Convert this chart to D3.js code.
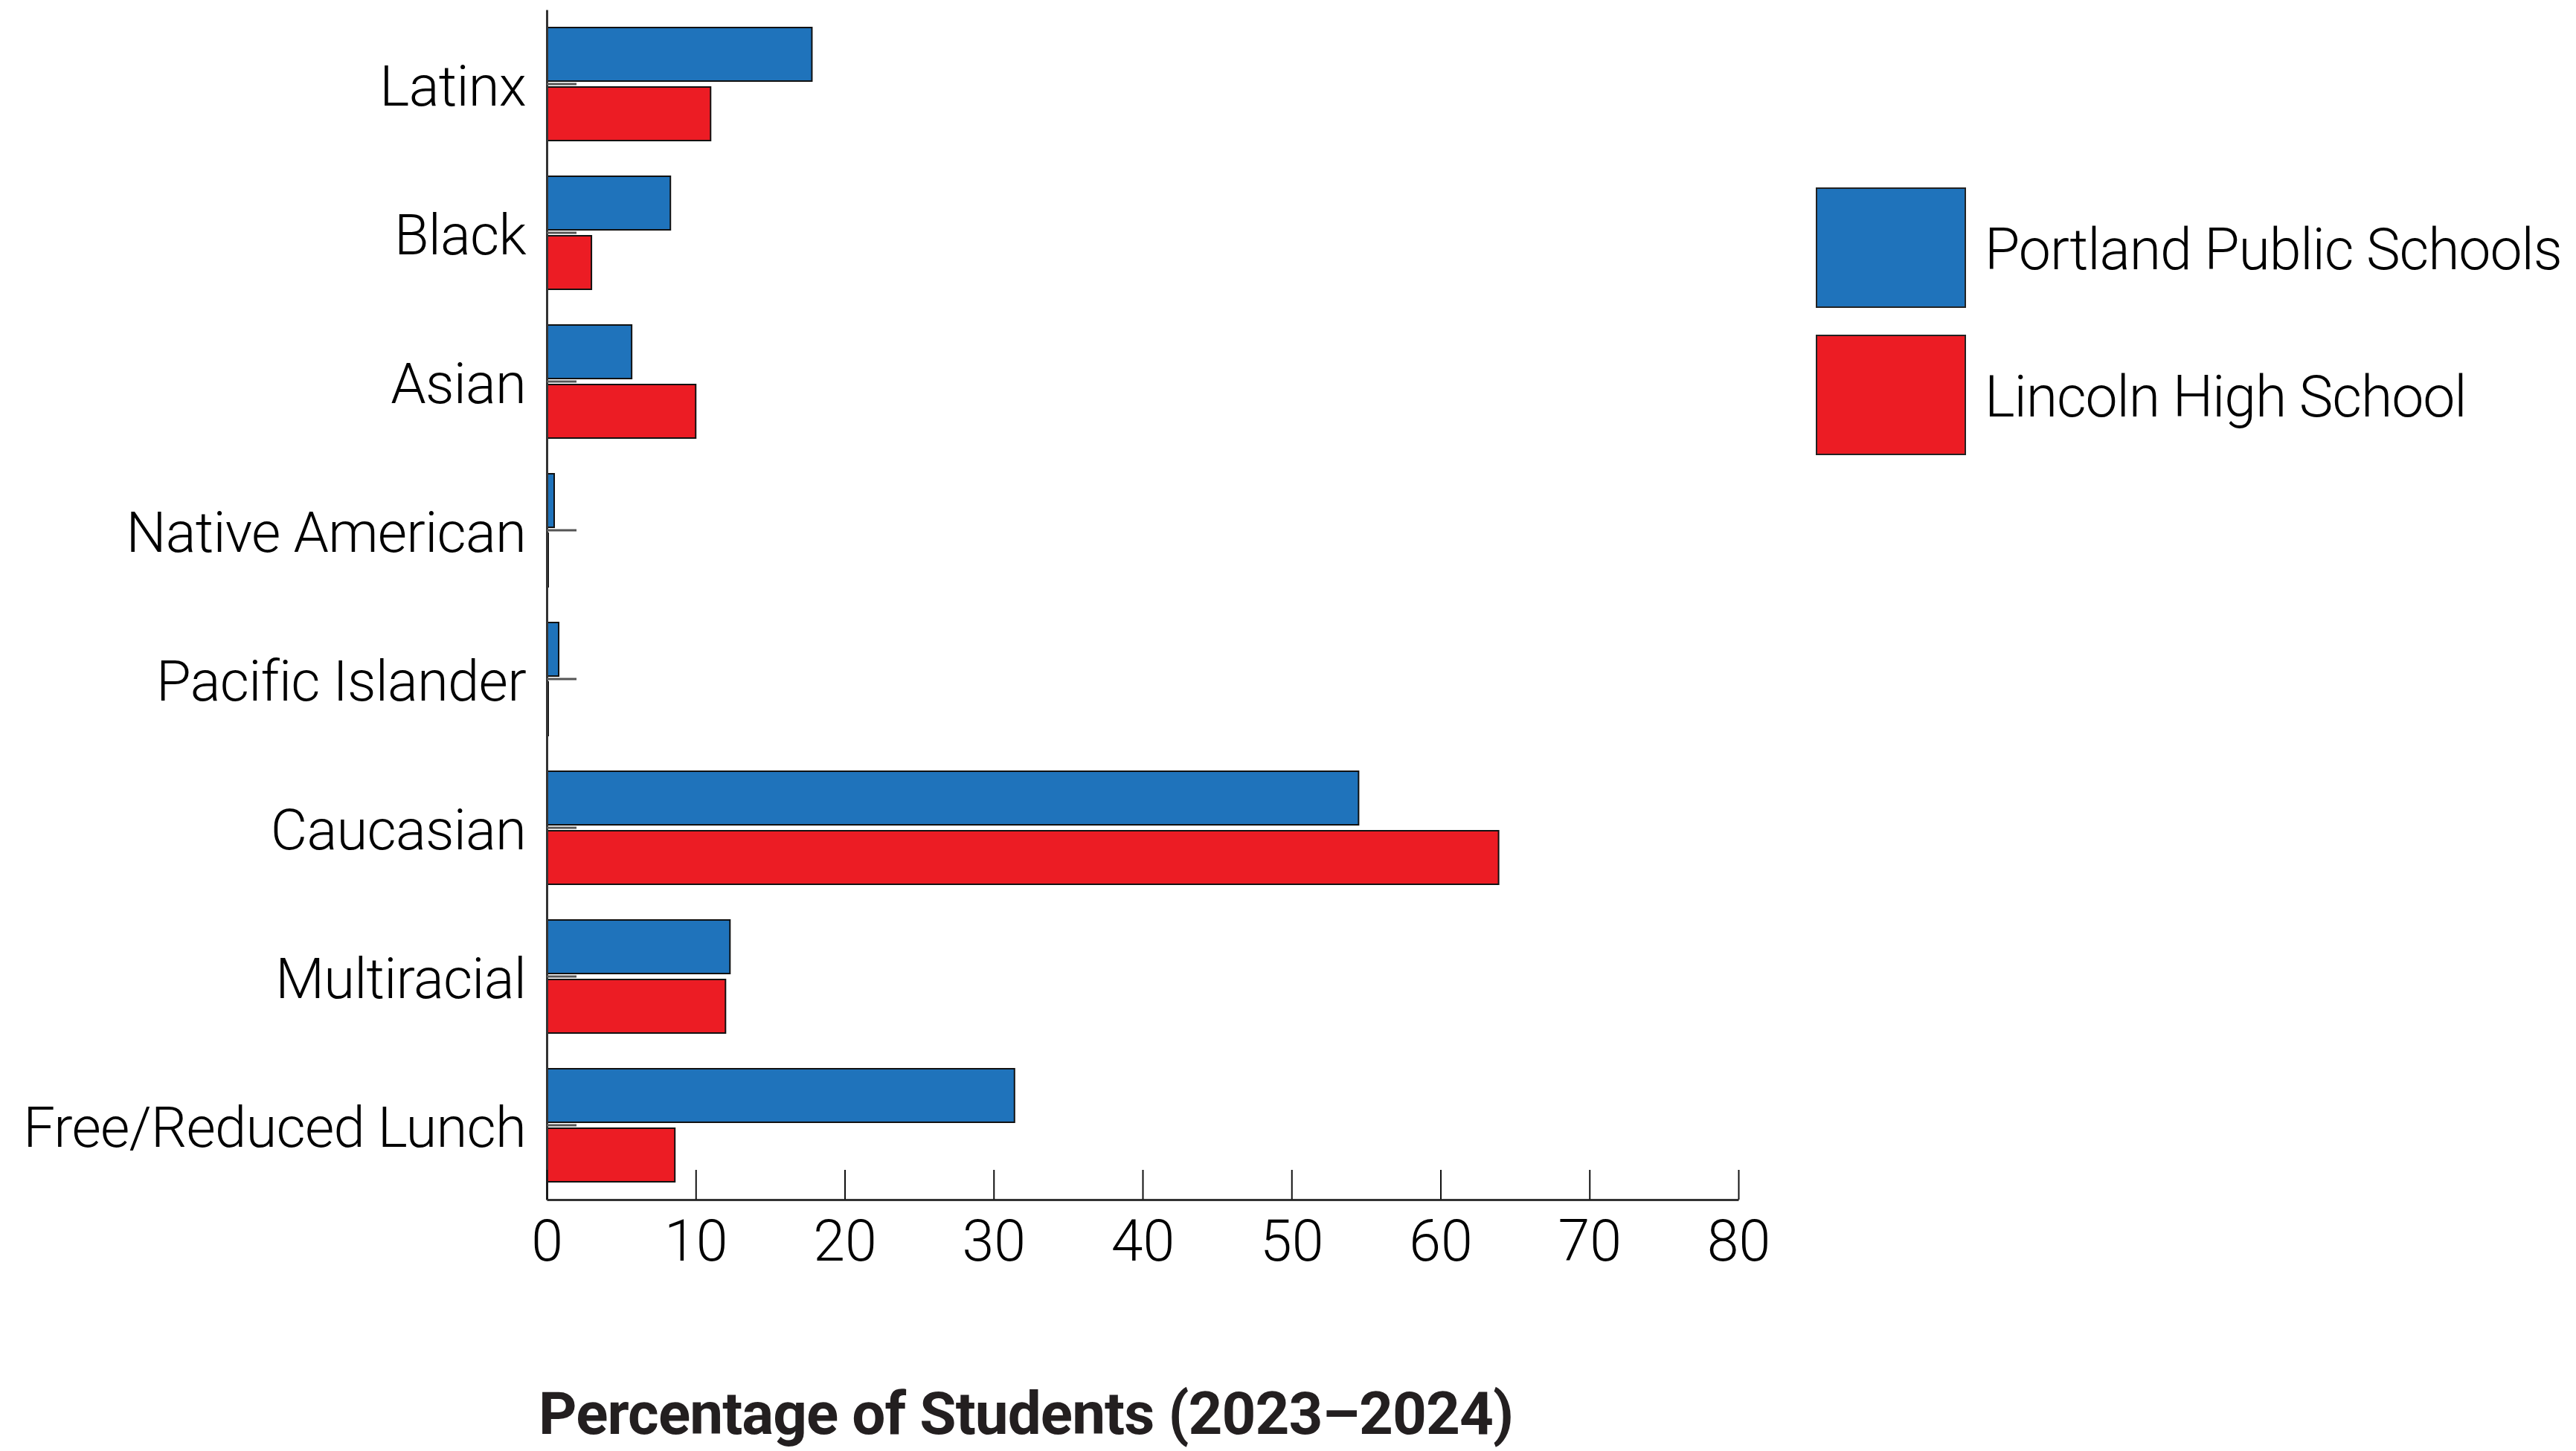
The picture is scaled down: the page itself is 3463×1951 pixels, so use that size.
<!DOCTYPE html>
<html>
<head>
<meta charset="utf-8">
<script src="https://cdn.jsdelivr.net/npm/d3@7"></script>
<style>
  html, body { margin: 0; padding: 0; background: #ffffff; }
  svg { display: block; }
</style>
</head>
<body>
<svg id="chart" width="3463" height="1951"></svg>
<script>
// ---- data ----
const categories = ["Latinx", "Black", "Asian", "Native American", "Pacific Islander", "Caucasian", "Multiracial", "Free/Reduced Lunch"];
const seriesNames = ["Portland Public Schools", "Lincoln High School"];
const portlandValues = [17.8, 8.3, 5.7, 0.5, 0.8, 54.5, 12.3, 31.4];
const lincolnValues = [11.0, 3.0, 10.0, 0.1, 0.1, 63.9, 12.0, 8.6];
const xTicks = [0, 10, 20, 30, 40, 50, 60, 70, 80];
const axisTitle = "Percentage of Students (2023\u20132024)";

const colors = ["#1f73bb", "#ec1c24"];
const rows = categories.map((c, i) => ({ category: c, values: [portlandValues[i], lincolnValues[i]] }));

const svg = d3.select("#chart");
const font = "Roboto, 'Noto Sans', sans-serif";

const x = d3.scaleLinear().domain([0, 80]).range([735, 2337]);
const y = d3.scaleBand().domain(categories).range([13, 1613]).padding(0);
const ySub = d3.scaleBand().domain(seriesNames).range([0, y.bandwidth()]).paddingInner(0.1).paddingOuter(0.3);

// bars
const groups = svg.append("g").selectAll("g").data(rows).join("g")
  .attr("transform", d => `translate(0,${y(d.category)})`);
groups.selectAll("rect").data(d => d.values.map((v, k) => ({ v, k }))).join("rect")
  .attr("x", x(0))
  .attr("y", d => ySub(seriesNames[d.k]))
  .attr("width", d => x(d.v) - x(0))
  .attr("height", ySub.bandwidth())
  .attr("fill", d => colors[d.k])
  .attr("stroke", "#111")
  .attr("stroke-width", 2);

// y axis
const yAxis = svg.append("g").attr("transform", `translate(${x(0)},0)`)
  .call(d3.axisLeft(y).tickSize(-40).tickSizeOuter(0).tickPadding(28));
yAxis.select(".domain").attr("stroke", "#333").attr("stroke-width", 3);
yAxis.selectAll(".tick line").attr("stroke", "#555").attr("stroke-width", 3);
yAxis.selectAll(".tick text")
  .attr("font-family", font).attr("font-weight", 300).attr("font-size", 76)
  .attr("letter-spacing", "-0.75px")
  .attr("fill", "#000").attr("dy", "0.38em");

// x axis
const xAxis = svg.append("g").attr("transform", `translate(0,${y.range()[1]})`)
  .call(d3.axisBottom(x).tickValues(xTicks).tickSize(-40).tickSizeOuter(0).tickPadding(27));
xAxis.select(".domain").attr("stroke", "#333").attr("stroke-width", 3);
xAxis.selectAll(".tick line").attr("stroke", "#111").attr("stroke-width", 2);
xAxis.selectAll(".tick text")
  .attr("font-family", font).attr("font-weight", 300).attr("font-size", 77)
  .attr("fill", "#000");

// axis title
svg.append("text")
  .attr("x", 724).attr("y", 1928)
  .attr("font-family", font).attr("font-weight", 700).attr("font-size", 80)
  .attr("letter-spacing", "-0.9px")
  .attr("fill", "#231f20")
  .text(axisTitle);

// legend
const legend = svg.append("g").selectAll("g").data(seriesNames).join("g")
  .attr("transform", (d, i) => `translate(2442,${253 + i * 198})`);
legend.append("rect")
  .attr("width", 200).attr("height", 160)
  .attr("fill", (d, i) => colors[i])
  .attr("stroke", "#222").attr("stroke-width", 2);
legend.append("text")
  .attr("x", 226).attr("y", 80).attr("dy", "0.38em")
  .attr("font-family", font).attr("font-weight", 300).attr("font-size", 77)
  .attr("letter-spacing", "-1.1px")
  .attr("fill", "#000")
  .text(d => d);
</script>
</body>
</html>
